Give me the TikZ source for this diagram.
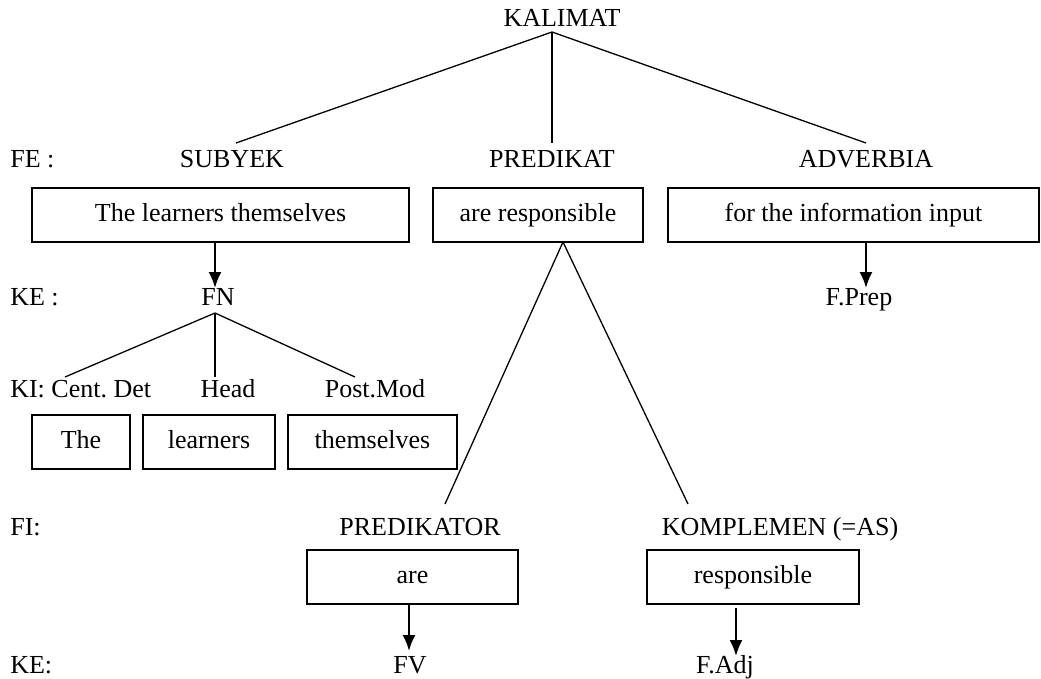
\documentclass[tikz,border=0pt]{standalone}
\usepackage{fontspec}
\setmainfont{Liberation Serif}
\usetikzlibrary{arrows.meta}

\begin{document}
\begin{tikzpicture}[x=1pt, y=-1pt, semithick,
every node/.style = { font = \fontsize{26}{30}\selectfont, inner sep = 0pt },
lbl/.style = { anchor = base },
lbl_kiri/.style = { anchor = base west },
kotak/.style = { draw, line width = 1.4pt, minimum height = 54pt, text height = 18pt, text depth = 5pt },
cabang/.style = { line width = 1.3pt },
panah/.style = { line width = 2pt, -{Latex[length=16pt, width=13pt]} }]
\useasboundingbox (0,0) rectangle (1041,679);

% tingkat kalimat
\node[lbl] (kalimat) at (562,27) {KALIMAT};
\coordinate (kal_puncak) at (552,32);

% fungsi eksternal
\node[lbl_kiri] (fe) at (10,168) {FE :};
\node[lbl] (subyek) at (232,168) {SUBYEK};
\node[lbl] (predikat) at (552,168) {PREDIKAT};
\node[lbl] (adverbia) at (866,168) {ADVERBIA};
\coordinate (subyek_atas) at (236,143);
\coordinate (predikat_atas) at (552,143);
\coordinate (adverbia_atas) at (866,143);

\node[kotak, minimum width = 377pt] (b_subyek) at (220.5,215) {The learners themselves};
\node[kotak, minimum width = 210pt] (b_predikat) at (538,215) {are responsible};
\node[kotak, minimum width = 371pt] (b_adverbia) at (853.5,215) {for the information input};

\path[cabang] (kal_puncak) edge (subyek_atas);
\path[cabang] (kal_puncak) edge (predikat_atas);
\path[cabang] (kal_puncak) edge (adverbia_atas);

% kategori eksternal
\node[lbl_kiri] (ke1) at (10,305) {KE :};
\node[lbl] (fn) at (218,305) {FN};
\node[lbl] (fprep) at (859,305) {F.Prep};
\coordinate (fn_panah) at (215,242);
\coordinate (fn_ujung) at (215,288);
\coordinate (fprep_panah) at (866,242);
\coordinate (fprep_ujung) at (866,288);
\draw[panah] (fn_panah) -- (fn_ujung);
\draw[panah] (fprep_panah) -- (fprep_ujung);

% fungsi internal FN
\coordinate (fn_puncak) at (215,313);
\node[lbl_kiri] (ki) at (10,397) {KI: Cent.\ Det};
\node[lbl] (head) at (228,397) {Head};
\node[lbl] (postmod) at (375,397) {Post.Mod};
\coordinate (centdet_atas) at (65,377);
\coordinate (head_atas) at (215,377);
\coordinate (postmod_atas) at (355,377);
\path[cabang] (fn_puncak) edge (centdet_atas);
\path[cabang] (fn_puncak) edge (head_atas);
\path[cabang] (fn_puncak) edge (postmod_atas);

\node[kotak, minimum width = 98pt] (b_the) at (81,442) {The};
\node[kotak, minimum width = 132pt] (b_learners) at (209,442) {learners};
\node[kotak, minimum width = 169pt] (b_themselves) at (372.5,442) {themselves};

% fungsi internal predikat
\coordinate (pred_puncak) at (563,242);
\coordinate (predikator_atas) at (445,504);
\coordinate (komplemen_atas) at (688,504);
\path[cabang] (pred_puncak) edge (predikator_atas);
\path[cabang] (pred_puncak) edge (komplemen_atas);

\node[lbl_kiri] (fi) at (10,535) {FI:};
\node[lbl] (predikator) at (420,535) {PREDIKATOR};
\node[lbl] (komplemen) at (780,535) {KOMPLEMEN (=AS)};

\node[kotak, minimum width = 211pt] (b_are) at (412.5,577) {are};
\node[kotak, minimum width = 212pt] (b_responsible) at (753,577) {responsible};

% kategori eksternal bawah
\node[lbl_kiri] (ke2) at (10,673) {KE:};
\node[lbl] (fv) at (410,673) {FV};
\node[lbl] (fadj) at (725,673) {F.Adj};
\coordinate (fv_panah) at (409,604);
\coordinate (fv_ujung) at (409,651);
\coordinate (fadj_panah) at (736,608);
\coordinate (fadj_ujung) at (736,656);
\draw[panah] (fv_panah) -- (fv_ujung);
\draw[panah] (fadj_panah) -- (fadj_ujung);
\end{tikzpicture}
\end{document}
